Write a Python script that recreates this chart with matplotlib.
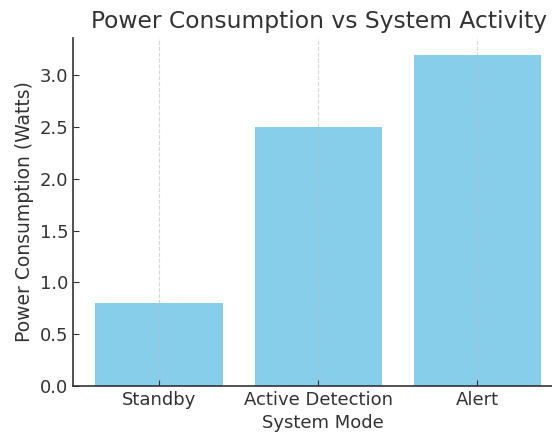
import matplotlib
matplotlib.use("Agg")
import matplotlib.pyplot as plt

plt.rcParams["font.family"] = ["DejaVu Sans"]

modes = ["Standby", "Active Detection", "Alert"]
power = [0.8, 2.5, 3.2]

W, H = 552, 437
fig = plt.figure(figsize=(W / 100, H / 100), dpi=100)
ax = fig.add_axes([73 / W, (H - 386) / H, 500 / W, 348 / H])

text_color = "#333333"
ax.bar(modes, power, width=0.8, color="skyblue", zorder=1)
ax.set_xlim(-0.54, 2.6)
ax.set_ylim(0, 3.36)

ax.grid(axis="x", linestyle="--", color="#bbbbbb", alpha=0.6, linewidth=0.8, zorder=2)
ax.set_axisbelow(False)
for s in ["top", "right"]:
    ax.spines[s].set_visible(False)
for s in ["left", "bottom"]:
    ax.spines[s].set_color(text_color)
    ax.spines[s].set_linewidth(1.2)

ax.tick_params(direction="in", labelsize=13, colors=text_color, length=4)
ax.set_yticks([0, 0.5, 1.0, 1.5, 2.0, 2.5, 3.0])
ax.set_title("Power Consumption vs System Activity", fontsize=16.8, color=text_color,
             pad=7, x=0.492)
ax.set_xlabel("System Mode", fontsize=13, color=text_color, labelpad=4)
ax.set_ylabel("Power Consumption (Watts)", fontsize=13.5, color=text_color, labelpad=4)

fig.savefig("out.png", dpi=100)
